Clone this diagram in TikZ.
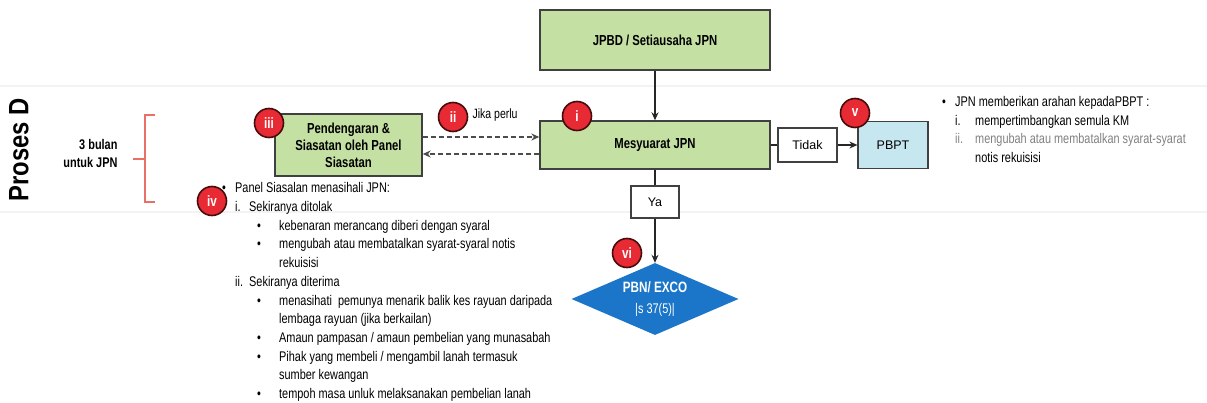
\documentclass[tikz,border=0pt]{standalone}
\usepackage{fontspec}
\setmainfont{Liberation Sans}
\newfontfamily\narrowfont{Liberation Sans}[FakeStretch=0.78]
\newfontfamily\prosesfont{Liberation Sans}[FakeStretch=0.85]
\usepackage{tikz}
\usetikzlibrary{positioning,arrows.meta,shapes.geometric}

\begin{document}
\begin{tikzpicture}[x=1pt, y=-1pt, >={Stealth[length=8pt,width=7pt]}, every node/.style={align=center}]
    % warna
    \definecolor{boxgreen}{RGB}{197,224,163}   % kotak hijau
    \definecolor{boxblue}{RGB}{198,231,240}    % PBPT
    \definecolor{excoblue}{RGB}{27,117,201}    % PBN / EXCO
    \definecolor{badgered}{RGB}{232,42,52}     % bulatan nombor
    \definecolor{badgeline}{RGB}{70,12,12}
    \definecolor{bracketred}{RGB}{232,112,102}
    \definecolor{edgegray}{RGB}{64,64,64}
    \definecolor{graytext}{RGB}{128,128,128}
    \definecolor{bandgray}{RGB}{243,243,243}

    % gaya nod
    \tikzstyle{stage} = [rectangle, draw=edgegray, line width=1.4pt, fill=boxgreen, inner sep=2pt, font=\narrowfont\fontsize{14.5}{17}\selectfont\bfseries]
    \tikzstyle{choice} = [rectangle, draw=edgegray, line width=1.2pt, fill=white, inner sep=2pt, font=\fontsize{12.5}{14}\selectfont]
    \tikzstyle{badge} = [circle, draw=badgeline, line width=1.6pt, fill=badgered, text=white, minimum size=29pt, inner sep=0pt, font=\narrowfont\fontsize{15}{15}\selectfont\bfseries]
    \tikzstyle{notes} = [anchor=north west, inner sep=0pt, align=left, font=\narrowfont\fontsize{14}{18.7}\selectfont]
    \tikzstyle{flow} = [->, line width=1.2pt, draw=black!85]
    \tikzstyle{link} = [line width=1.2pt, draw=black!85]
    \tikzstyle{maybe} = [->, line width=1.2pt, draw=black!70, dash pattern=on 5pt off 3pt]

    \useasboundingbox (0,0) rectangle (1207,403);

    % jalur Proses D
    \draw[bandgray, line width=2pt] (0,86) -- (1207,86);
    \draw[bandgray, line width=2pt] (0,212) -- (1207,212);
    \node[rotate=90, font=\prosesfont\fontsize{28}{30}\selectfont\bfseries] (proses) at (19,150) {Proses D};
    \node[anchor=east, align=right, font=\narrowfont\fontsize{14}{18}\selectfont\bfseries] (tempoh) at (121,153) {3 bulan\\untuk JPN};
    \draw[bracketred, line width=1.5pt] (155,115) -- (145,115) -- (145,202) -- (155,202);
    \draw[bracketred, line width=1.5pt] (145,159) -- (133,159);

    % kotak utama
    \node[stage, minimum width=230pt, minimum height=60pt] (jpbd) at (655,40) {JPBD / Setiausaha JPN};
    \node[stage, minimum width=230pt, minimum height=48pt] (mesy) at (655,145) {Mesyuarat JPN};
    \node[stage, minimum width=147pt, minimum height=62pt] (pend) at (348.5,145) {Pendengaran \&\\Siasatan oleh Panel\\Siasatan};
    \node[choice, minimum width=59pt, minimum height=34pt] (tidak) at (807.5,145) {Tidak};
    \node[choice, fill=boxblue, minimum width=70pt, minimum height=47pt] (pbpt) at (893,145) {PBPT};
    \node[choice, minimum width=48pt, minimum height=32pt] (ya) at (655,202) {Ya};
    \node[diamond, aspect=2.3, fill=excoblue, text=white, inner sep=0pt, minimum width=167pt, minimum height=72pt, font=\narrowfont\fontsize{14}{21}\selectfont] (exco) at (655,299) {{\fontsize{15}{21}\selectfont\bfseries PBN/ EXCO}\\|s 37(5)|};

    % bulatan nombor
    \node[badge] (b1) at (577,116) {i};
    \node[badge] (b2) at (453,117) {ii};
    \node[badge] (b3) at (269,123) {iii};
    \node[badge] (b4) at (212,201) {iv};
    \node[badge] (b5) at (855,113) {v};
    \node[badge] (b6) at (627,253) {vi};
    \node[anchor=west, font=\narrowfont\fontsize{13.5}{15}\selectfont] (perlu) at (469,115) {Jika perlu};

    % anak panah
    \draw[flow] (jpbd) -- (mesy);
    \draw[maybe] ([yshift=8pt]pend.east) -- ([yshift=8pt]pend.east -| mesy.west);
    \draw[maybe] ([yshift=-9pt]mesy.west) -- ([yshift=-9pt]mesy.west -| pend.east);
    \draw[link] (mesy) -- (tidak);
    \draw[flow] (tidak) -- (pbpt);
    \draw[link] (mesy) -- (ya);
    \draw[flow] (ya) -- (exco);

    % nota
    \node[notes] (nasihat) at (222,182.5) {%
      \makebox[13pt][l]{\textbullet}Panel Siasalan menasihali JPN:\\
      \hspace*{13pt}\makebox[14pt][l]{i.}Sekiranya ditolak\\
      \hspace*{35pt}\makebox[22pt][l]{\textbullet}kebenaran merancang diberi dengan syaral\\
      \hspace*{35pt}\makebox[22pt][l]{\textbullet}mengubah atau membatalkan syarat-syaral notis\\
      \hspace*{57pt}rekuisisi\\
      \hspace*{13pt}\makebox[14pt][l]{ii.}Sekiranya diterima\\
      \hspace*{35pt}\makebox[22pt][l]{\textbullet}menasihati\ \ pemunya menarik balik kes rayuan daripada\\
      \hspace*{57pt}lembaga rayuan (jika berkailan)\\
      \hspace*{35pt}\makebox[22pt][l]{\textbullet}Amaun pampasan / amaun pembelian yang munasabah\\
      \hspace*{35pt}\makebox[22pt][l]{\textbullet}Pihak yang membeli / mengambil lanah termasuk\\
      \hspace*{57pt}sumber kewangan\\
      \hspace*{35pt}\makebox[22pt][l]{\textbullet}tempoh masa unluk melaksanakan pembelian lanah};
    \node[notes] (arahan) at (942,96) {%
      \makebox[13pt][l]{\textbullet}JPN memberikan arahan kepadaPBPT :\\
      \hspace*{13pt}\makebox[20pt][l]{i.}mempertimbangkan semula KM\\
      \hspace*{13pt}{\color{graytext}\makebox[20pt][l]{ii.}mengubah atau membatalkan syarat-syarat}\\
      \hspace*{33pt}notis rekuisisi};
\end{tikzpicture}
\end{document}
